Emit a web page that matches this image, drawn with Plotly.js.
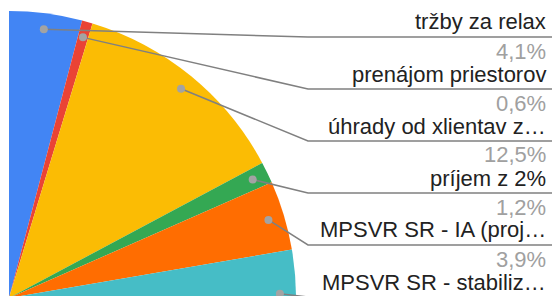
<!DOCTYPE html>
<html><head><meta charset="utf-8">
<script src="https://cdn.plot.ly/plotly-3.0.1.min.js"></script>
<style>
html,body{margin:0;padding:0;background:#fff;overflow:hidden;width:552px;height:296px;}
#wrap{position:absolute;left:9px;top:0;width:543px;height:296px;overflow:hidden;background:#fff;}
#chart{position:absolute;left:-287px;top:0;width:830px;height:585px;}
</style></head>
<body><div id="wrap"><div id="chart"></div></div>
<script>
// data
const labels = ['tržby za relax','prenájom priestorov','úhrady od xlientav z…','príjem z 2%','MPSVR SR - IA (proj…','MPSVR SR - stabiliz…','ostatné'];
const values = [4.1, 0.6, 12.5, 1.2, 3.9, 4.9, 72.8];
const colors = ['#4285F4','#EA4335','#FBBC04','#34A853','#FF6D01','#46BDC6','#7BAAF7'];

// geometry (page px)
const CX = 9, CY = 298, R = 287;
const W = 830, H = 585, OX = -278; // plot div page offset
const px = x => (x - OX) / W;
const py = y => 1 - y / H;

const total = values.reduce((a,b)=>a+b,0);
const shapes = [], annotations = [];
let cum = 0;
const shown = 6;
for (let i = 0; i < values.length; i++) {
  const mid = (cum + values[i] / 2) / total * 2 * Math.PI;
  cum += values[i];
  if (i >= shown) continue;
  const dx = CX + 0.944 * R * Math.sin(mid), dy = CY - 0.944 * R * Math.cos(mid);
  const lineY = 37 + 52 * i;
  shapes.push({type:'path', xref:'paper', yref:'paper',
    path:`M ${px(dx)} ${py(dy)} L ${px(308)} ${py(lineY)} L ${px(556)} ${py(lineY)}`,
    line:{color:'#808080', width:1.5}});
  shapes.push({type:'circle', xref:'paper', yref:'paper', x0:px(dx-4), x1:px(dx+4), y0:py(dy+4), y1:py(dy-4),
    fillcolor:'#a3a3a3', line:{width:0}});
  annotations.push({xref:'paper', yref:'paper', x:px(548), y:py(lineY-15), xanchor:'right', yanchor:'middle',
    text:labels[i], showarrow:false, font:{family:'Liberation Sans, Arial', size:22, color:'#222222'}});
  const pct = (values[i] / total * 100).toFixed(1).replace('.', ',') + '%';
  annotations.push({xref:'paper', yref:'paper', x:px(548), y:py(lineY+14), xanchor:'right', yanchor:'middle',
    text:pct, showarrow:false, font:{family:'Liberation Sans, Arial', size:22, color:'#a0a0a0'}});
}

const trace = {type:'pie', labels:labels, values:values, sort:false, direction:'clockwise', rotation:0,
  marker:{colors:colors, line:{width:0}}, textinfo:'none', hoverinfo:'skip',
  domain:{x:[0, 574/W], y:[0, 574/H]}, showlegend:false};

Plotly.newPlot('chart', [trace], {
  width:W, height:H, margin:{l:0,r:0,t:0,b:0}, paper_bgcolor:'#fff', plot_bgcolor:'#fff',
  showlegend:false, shapes:shapes, annotations:annotations
}, {staticPlot:true, displayModeBar:false});
</script></body></html>
